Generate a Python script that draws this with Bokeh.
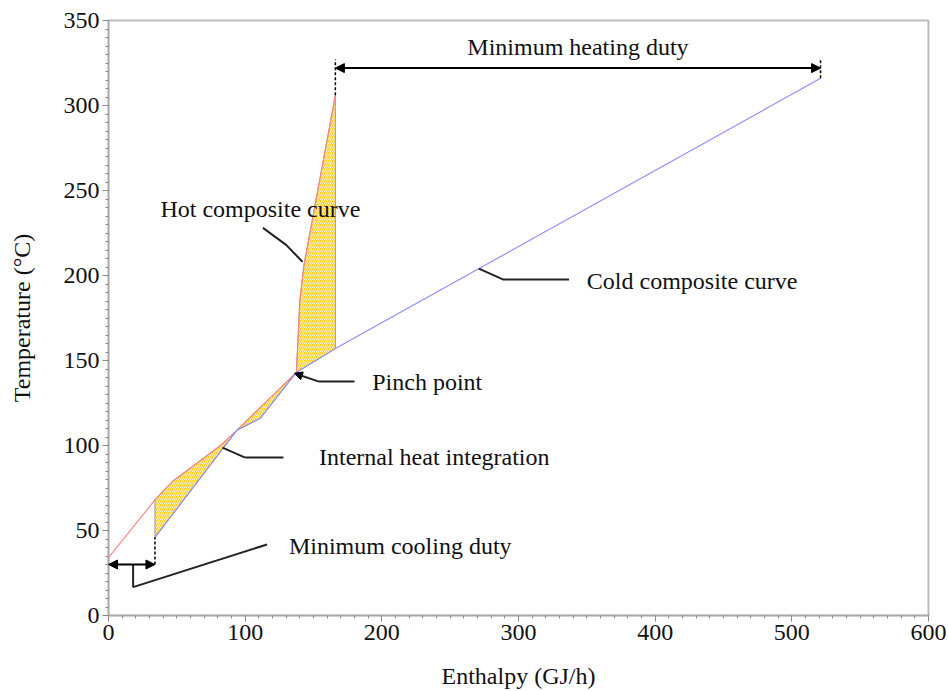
from bokeh.plotting import figure
from bokeh.models import Arrow, NormalHead, Range1d, Label
from bokeh.embed import file_html
from bokeh.resources import INLINE

# Composite curve data (Enthalpy GJ/h, Temperature °C)
hot_H = [0, 34, 47, 82, 94, 131, 137.5, 140, 143, 166]
hot_T = [34, 68, 79, 100, 109, 138, 143, 185, 206, 306]
cold_H = [34, 94, 111, 137.5, 166, 521]
cold_T = [46, 109, 116, 143, 157, 316]

# Duties
cooling_H = [0, 34]
cooling_T = 30
heating_H = [166, 521]
heating_T = 322
heating_top = 327

# Annotations
labels = ["Hot composite curve", "Cold composite curve", "Pinch point",
          "Internal heat integration", "Minimum cooling duty"]
label_H = [38, 350, 193, 154, 132]
label_T = [239, 197, 137.6, 93, 41]
leaders_H = [[113, 130, 142], [271, 289, 337], [100, 128], [18, 18, 116]]
leaders_T = [[228, 218, 208], [204, 197.6, 197.6], [92.9, 92.9], [30, 16.7, 41.8]]
pinch_leader_H = [154, 180]
pinch_leader_T = [137.6, 137.6]
pinch_arrow_end = (136, 142.5)
internal_arrow_end = (83.4, 98.8)

FONT = "Liberation Serif"
FS = "24px"

p = figure(width=948, height=691, output_backend="svg", toolbar_location=None,
           x_range=Range1d(0, 600), y_range=Range1d(0, 350),
           min_border_left=108, min_border_right=20, min_border_top=20,
           min_border_bottom=76)
p.xgrid.visible = False
p.ygrid.visible = False
p.outline_line_color = "#bbbbbb"
p.outline_line_width = 2
p.background_fill_color = "white"

for ax in (p.xaxis[0], p.yaxis[0]):
    ax.axis_line_color = "#aaaaaa"
    ax.axis_line_width = 1.5
    ax.major_tick_line_color = "#888888"
    ax.minor_tick_line_color = "#888888"
    ax.major_tick_out = 6
    ax.major_tick_in = 0
    ax.minor_tick_out = 3
    ax.minor_tick_in = 0
    ax.major_label_text_font = FONT
    ax.major_label_text_font_size = FS
    ax.major_label_text_color = "#111111"
    ax.axis_label_text_font = FONT
    ax.axis_label_text_font_size = FS
    ax.axis_label_text_font_style = "normal"
    ax.axis_label_text_color = "#111111"

p.xaxis.axis_label = "Enthalpy (GJ/h)"
p.yaxis.axis_label = "Temperature (\u00b0C)"
p.xaxis.ticker.desired_num_ticks = 6
p.xaxis.ticker.num_minor_ticks = 10
p.yaxis.ticker.num_minor_ticks = 10
p.xaxis.axis_label_standoff = 20
p.yaxis.axis_label_standoff = 26
p.xaxis.major_label_standoff = 3
p.yaxis.major_label_standoff = 3

# Hatched regions built from the curves
i_start = hot_H.index(34)
i_pinch = hot_H.index(137.5)
j_pinch = cold_H.index(137.5)
j_top = cold_H.index(166)
reg1_x = hot_H[i_start:i_pinch + 1] + cold_H[:j_pinch][::-1]
reg1_y = hot_T[i_start:i_pinch + 1] + cold_T[:j_pinch][::-1]
reg2_x = hot_H[i_pinch:] + cold_H[j_pinch:j_top + 1][::-1]
reg2_y = hot_T[i_pinch:] + cold_T[j_pinch:j_top + 1][::-1]
for rx, ry in ((reg1_x, reg1_y), (reg2_x, reg2_y)):
    p.patch(rx, ry, fill_color="#ffcc22", line_color="#9a9aa8", line_width=1,
             hatch_pattern="/", hatch_color="white", hatch_scale=4,
             hatch_weight=1, hatch_alpha=0.75)

# Curves
p.line(hot_H, hot_T, line_color="#ff8080", line_width=1.1)
p.line(cold_H, cold_T, line_color="#8a8aff", line_width=1.1)

# Heating duty
p.line([heating_H[0], heating_H[0]], [hot_T[-1], heating_top], line_color="black",
       line_width=1.5, line_dash="3 2")
p.line([heating_H[1], heating_H[1]], [cold_T[-1], heating_top], line_color="black",
       line_width=1.5, line_dash="3 2")
p.add_layout(Arrow(x_start=heating_H[0], y_start=heating_T, x_end=heating_H[1],
                   y_end=heating_T, line_width=2, line_color="black",
                   start=NormalHead(size=9, fill_color="black", line_color="black"),
                   end=NormalHead(size=9, fill_color="black", line_color="black")))

# Cooling duty
p.line([cooling_H[1], cooling_H[1]], [cooling_T, cold_T[0]], line_color="black",
       line_width=1.5, line_dash="3 2")
p.add_layout(Arrow(x_start=cooling_H[0], y_start=cooling_T, x_end=cooling_H[1],
                   y_end=cooling_T, line_width=2, line_color="black",
                   start=NormalHead(size=9, fill_color="black", line_color="black"),
                   end=NormalHead(size=9, fill_color="black", line_color="black")))

# Leaders
for lx, ly in zip(leaders_H, leaders_T):
    p.line(lx, ly, line_color="#222222", line_width=2)
p.line([internal_arrow_end[0], leaders_H[2][0]], [internal_arrow_end[1], leaders_T[2][0]],
       line_color="#222222", line_width=2)
p.line(pinch_leader_H, pinch_leader_T, line_color="#222222", line_width=2)
p.add_layout(Arrow(x_start=pinch_leader_H[0], y_start=pinch_leader_T[0],
                   x_end=pinch_arrow_end[0], y_end=pinch_arrow_end[1],
                   line_width=2, line_color="#222222",
                   end=NormalHead(size=8, fill_color="black", line_color="black")))

for t, x, y in zip(labels, label_H, label_T):
    p.add_layout(Label(x=x, y=y, text=t, text_font=FONT, text_font_size=FS,
                       text_baseline="middle", text_align="left", text_color="#111111"))
p.add_layout(Label(x=sum(heating_H) / 2, y=334.7, text="Minimum heating duty",
                   text_font=FONT, text_font_size=FS, text_baseline="middle",
                   text_align="center", text_color="#111111"))

open("out.html", "w").write(file_html(p, INLINE))
